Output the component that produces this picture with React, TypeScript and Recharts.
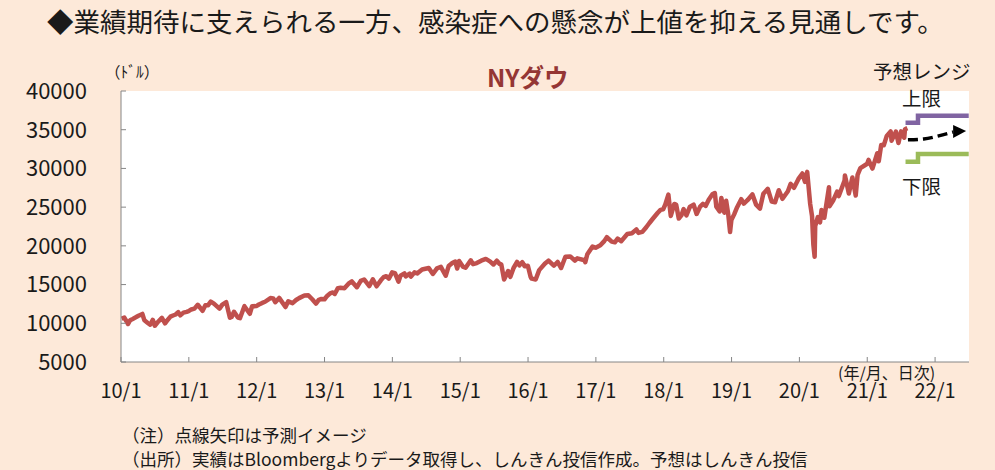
import React from "react";
import { LineChart, Line, XAxis, YAxis, CartesianGrid } from "recharts";

const BG = "#FDE9D9";
const RED = "#C0504D";
const FONT = "'Noto Sans CJK JP', 'Noto Sans', sans-serif";

// NYダウ（実績）
const dowDates = [
    "2010-01-04", "2010-01-19", "2010-02-08", "2010-02-19", "2010-03-05", "2010-03-19", "2010-04-05", "2010-04-26",
    "2010-05-07", "2010-05-25", "2010-06-07", "2010-06-21", "2010-07-02", "2010-07-16", "2010-08-09", "2010-08-26",
    "2010-09-10", "2010-09-24", "2010-10-08", "2010-10-22", "2010-11-05", "2010-11-16", "2010-12-03", "2010-12-20", "2010-12-31",
    "2011-01-14", "2011-01-31", "2011-02-18", "2011-03-16", "2011-03-31", "2011-04-15", "2011-04-29", "2011-05-16",
    "2011-06-15", "2011-06-30", "2011-07-21", "2011-08-10", "2011-08-19", "2011-09-01", "2011-09-22", "2011-10-03",
    "2011-10-27", "2011-11-25", "2011-12-07", "2011-12-30",
    "2012-01-13", "2012-01-31", "2012-02-15", "2012-03-15", "2012-03-30", "2012-04-10", "2012-05-01", "2012-06-04",
    "2012-06-19", "2012-07-12", "2012-07-31", "2012-08-16", "2012-09-14", "2012-10-05", "2012-10-26", "2012-11-15",
    "2012-11-30", "2012-12-14", "2012-12-31",
    "2013-01-15", "2013-01-31", "2013-02-15", "2013-02-25", "2013-03-14", "2013-03-28", "2013-04-18", "2013-05-10",
    "2013-05-28", "2013-06-24", "2013-07-15", "2013-08-02", "2013-08-30", "2013-09-18", "2013-10-08", "2013-10-31",
    "2013-11-15", "2013-11-29", "2013-12-13", "2013-12-31",
    "2014-01-15", "2014-02-03", "2014-02-14", "2014-03-07", "2014-03-14", "2014-04-04", "2014-04-11", "2014-04-30",
    "2014-05-15", "2014-06-10", "2014-07-16", "2014-08-07", "2014-08-29", "2014-09-19", "2014-10-15", "2014-10-31",
    "2014-11-21", "2014-12-05", "2014-12-16", "2014-12-26",
    "2015-01-15", "2015-01-30", "2015-02-27", "2015-03-11", "2015-03-31", "2015-04-24", "2015-05-19", "2015-06-10",
    "2015-06-29", "2015-07-17", "2015-07-31", "2015-08-10", "2015-08-25", "2015-09-16", "2015-09-28", "2015-10-15",
    "2015-11-03", "2015-11-16", "2015-12-01", "2015-12-14", "2015-12-31",
    "2016-01-15", "2016-01-20", "2016-02-11", "2016-03-01", "2016-03-31", "2016-04-20", "2016-05-19", "2016-06-08",
    "2016-06-27", "2016-07-20", "2016-08-15", "2016-09-09", "2016-09-22", "2016-10-31", "2016-11-04", "2016-11-15",
    "2016-12-13", "2016-12-30",
    "2017-01-25", "2017-02-15", "2017-03-01", "2017-03-27", "2017-04-13", "2017-04-28", "2017-05-17", "2017-06-19",
    "2017-07-14", "2017-08-07", "2017-08-18", "2017-09-08", "2017-09-29", "2017-10-16", "2017-11-01", "2017-11-30",
    "2017-12-15", "2017-12-29",
    "2018-01-10", "2018-01-26", "2018-02-08", "2018-02-27", "2018-03-09", "2018-03-23", "2018-04-06", "2018-04-18",
    "2018-05-03", "2018-05-21", "2018-06-11", "2018-06-27", "2018-07-16", "2018-07-31", "2018-08-15", "2018-08-31",
    "2018-09-20", "2018-10-03", "2018-10-11", "2018-10-29", "2018-11-07", "2018-11-23", "2018-12-03", "2018-12-14",
    "2018-12-24", "2018-12-31",
    "2019-01-15", "2019-01-31", "2019-02-22", "2019-03-08", "2019-03-29", "2019-04-23", "2019-05-13", "2019-06-03",
    "2019-06-21", "2019-07-15", "2019-08-05", "2019-08-23", "2019-09-12", "2019-10-02", "2019-10-31", "2019-11-15",
    "2019-12-03", "2019-12-27",
    "2020-01-17", "2020-01-31", "2020-02-12", "2020-02-28", "2020-03-09", "2020-03-16", "2020-03-23", "2020-03-26",
    "2020-04-09", "2020-04-21", "2020-04-29", "2020-05-14", "2020-06-08", "2020-06-11", "2020-06-30", "2020-07-22",
    "2020-07-31", "2020-08-31", "2020-09-02", "2020-09-23", "2020-10-12", "2020-10-30", "2020-11-09", "2020-11-24",
    "2020-12-31",
    "2021-01-08", "2021-01-29", "2021-02-24", "2021-03-04", "2021-03-17", "2021-03-31", "2021-04-16", "2021-05-07",
    "2021-05-12", "2021-06-04", "2021-06-18", "2021-07-02", "2021-07-19", "2021-07-23", "2021-08-05",
];

const dowValues = [
    10584, 10725, 9908, 10400, 10566, 10742, 10974, 11205,
    10380, 10043, 9816, 10442, 9686, 10097, 10698, 9985,
    10462, 10860, 11006, 11133, 11444, 11023, 11382, 11478, 11578,
    11787, 11892, 12391, 11613, 12320, 12341, 12811, 12548,
    11897, 12414, 12724, 10720, 10817, 11494, 10733, 10655,
    12209, 11231, 12196, 12218,
    12422, 12633, 12781, 13253, 13212, 12716, 13279, 12101,
    12837, 12604, 13009, 13250, 13593, 13610, 13107, 12542,
    13026, 13135, 13104,
    13534, 13861, 13981, 13784, 14539, 14579, 14537, 15118,
    15409, 14660, 15485, 15658, 14810, 15677, 14776, 15546,
    15962, 16086, 15755, 16577,
    16482, 15372, 16154, 16453, 16066, 16412, 16027, 16581,
    16447, 16945, 17138, 16368, 17098, 17280, 16142, 17391,
    17810, 17958, 17068, 18053,
    17321, 17165, 18133, 17635, 17776, 18080, 18312, 18000,
    17597, 18086, 17690, 17615, 15666, 16740, 16001, 17141,
    17918, 17483, 17888, 17369, 17425,
    15988, 15766, 15660, 16866, 17685, 18096, 17435, 17920,
    17140, 18595, 18636, 18085, 18392, 18142, 17888, 18923,
    19911, 19763,
    20068, 20611, 21115, 20550, 20453, 20941, 20606, 21528,
    21638, 22118, 21674, 21798, 22405, 22956, 23435, 24272,
    24651, 24719,
    25369, 26617, 23860, 25410, 25335, 23533, 23933, 24748,
    23930, 25013, 25322, 24117, 25064, 25415, 25162, 25965,
    26657, 26828, 25052, 24443, 26180, 24286, 25826, 24100,
    21792, 23327,
    24065, 24999, 26031, 25450, 25929, 26656, 25324, 24819,
    26719, 27359, 25717, 25628, 27182, 26078, 27046, 28004,
    27502, 28645,
    29348, 28256, 29551, 25409, 23851, 20188, 18591, 22552,
    23719, 23018, 24633, 23625, 27572, 25128, 25813, 27005,
    26428, 28430, 29100, 26763, 28837, 26502, 29158, 30046,
    30606,
    31098, 29983, 31961, 30924, 33015, 32982, 34200, 34778,
    33587, 34756, 33290, 34786, 33962, 35061, 35200,
];

// 予想レンジ（上限・下限）と予測イメージ
const rangeDates = ["2021-07-26", "2021-10-01", "2021-10-01", "2022-07-01"];
const upperValues = [35900, 35900, 36800, 36800];
const lowerValues = [30850, 30850, 31850, 31850];
const forecastDates = ["2021-08-08", "2021-11-01", "2022-01-20", "2022-04-08"];
const forecastValues = [33700, 33800, 34200, 34700];

const yTicks = [5000, 10000, 15000, 20000, 25000, 30000, 35000, 40000];
const xTicks = [2010, 2011, 2012, 2013, 2014, 2015, 2016, 2017, 2018, 2019, 2020, 2021, 2022];

const toYear = (s: string) => {
    const [y, m, d] = s.split("-").map(Number);
    return y + (Date.UTC(y, m - 1, d) - Date.UTC(y, 0, 1)) / (365 * 86400000);
};

const dowData = dowDates.map((d, i) => ({ t: toYear(d), v: dowValues[i] }));
const upperData = rangeDates.map((d, i) => ({ t: toYear(d), v: upperValues[i] }));
const lowerData = rangeDates.map((d, i) => ({ t: toYear(d), v: lowerValues[i] }));
const forecastData = forecastDates.map((d, i) => ({ t: toYear(d), v: forecastValues[i] }));

const ArrowHead = (props: any) => {
    const { cx, cy, index } = props;
    if (index !== forecastData.length - 1) return <g key={index} />;
    return (
        <polygon
            key={index}
            points={`${cx},${cy - 7} ${cx + 13},${cy - 1} ${cx},${cy + 6}`}
            fill="#000"
        />
    );
};

const txt = (style: React.CSSProperties): React.CSSProperties => ({
    position: "absolute",
    whiteSpace: "nowrap",
    fontFamily: FONT,
    color: "#1a1a1a",
    lineHeight: 1,
    ...style,
});

export default function App() {
    return (
        <div
            style={{
                position: "absolute",
                left: 0,
                top: 0,
                width: 995,
                height: 470,
                background: BG,
                overflow: "hidden",
                fontFamily: FONT,
            }}
        >
            <LineChart
                width={995}
                height={470}
                style={{ position: "absolute", left: 0, top: 0 }}
                margin={{ top: 91, right: 26, bottom: 78, left: 0 }}
            >
                <CartesianGrid horizontal={false} vertical={false} fill="#fff" />
                <XAxis
                    dataKey="t"
                    type="number"
                    domain={[2010, 2022.5]}
                    ticks={xTicks}
                    tickFormatter={(y: number) => `${y % 100}/1`}
                    allowDataOverflow
                    height={30}
                    stroke="#868686"
                    tickSize={-5}
                    tickMargin={27}
                    tick={{ fill: "#1a1a1a", fontSize: 20, fontFamily: FONT }}
                />
                <YAxis
                    dataKey="v"
                    type="number"
                    domain={[5000, 40000]}
                    ticks={yTicks}
                    width={121}
                    stroke="#868686"
                    tickSize={-5}
                    tickMargin={39}
                    tick={{ fill: "#1a1a1a", fontSize: 22, fontFamily: FONT }}
                />
                <Line
                    data={dowData}
                    dataKey="v"
                    type="linear"
                    stroke={RED}
                    strokeWidth={4.5}
                    strokeLinejoin="round"
                    dot={false}
                    isAnimationActive={false}
                />
                <Line
                    data={upperData}
                    dataKey="v"
                    type="linear"
                    stroke="#8064A2"
                    strokeWidth={4.5}
                    dot={false}
                    isAnimationActive={false}
                />
                <Line
                    data={lowerData}
                    dataKey="v"
                    type="linear"
                    stroke="#9BBB59"
                    strokeWidth={4.5}
                    dot={false}
                    isAnimationActive={false}
                />
                <Line
                    data={forecastData}
                    dataKey="v"
                    type="monotone"
                    stroke="#000"
                    strokeWidth={3.5}
                    strokeDasharray="10 5"
                    dot={ArrowHead}
                    isAnimationActive={false}
                />
            </LineChart>

            <div style={txt({ left: 47, top: 8, fontSize: 26.5 })}>
                ◆業績期待に支えられる一方、感染症への懸念が上値を抑える見通しです。
            </div>
            <div style={txt({ left: 487, top: 65, fontSize: 24.5, fontWeight: "bold", color: "#943634" })}>NYダウ</div>
            <div style={txt({ left: 105, top: 64, fontSize: 15.5 })}>（ﾄﾞﾙ）</div>
            <div style={txt({ left: 873, top: 61, fontSize: 19.5 })}>予想レンジ</div>
            <div style={txt({ left: 902, top: 88, fontSize: 19.5 })}>上限</div>
            <div style={txt({ left: 902, top: 176, fontSize: 19.5 })}>下限</div>
            <div style={txt({ left: 838, top: 364, fontSize: 16, height: 16 })}>(年/月、日次)</div>
            <div style={txt({ left: 122, top: 426, fontSize: 17.5, height: 22 })}>（注）点線矢印は予測イメージ</div>
            <div style={txt({ left: 122, top: 450, fontSize: 17.5, height: 20 })}>
                （出所）実績はBloombergよりデータ取得し、しんきん投信作成。予想はしんきん投信
            </div>
        </div>
    );
}
